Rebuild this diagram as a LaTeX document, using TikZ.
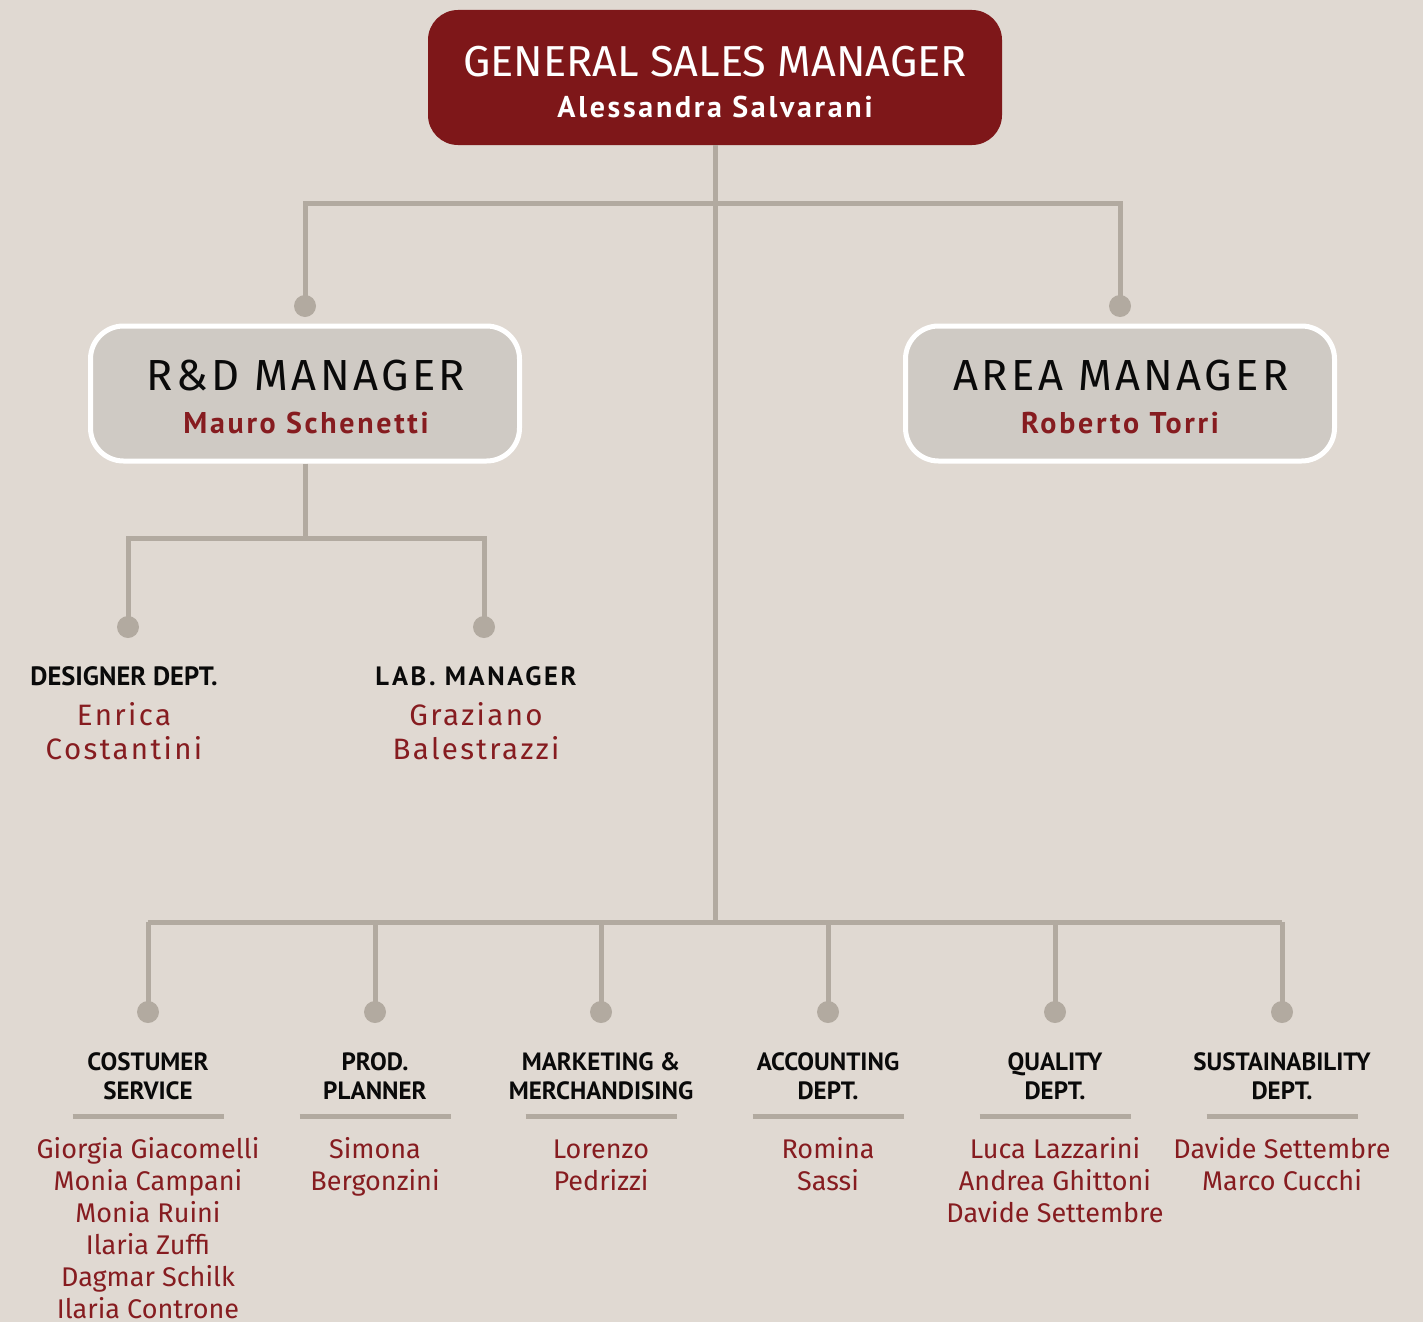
\documentclass[tikz,border=0pt]{standalone}
\usepackage{fontspec}
\setmainfont{Fira Sans}
\newfontfamily\headfont{PT Sans}
\newfontfamily\headspaced[LetterSpace=9]{PT Sans}
\newfontfamily\headwide[LetterSpace=10]{PT Sans}
\newfontfamily\namespaced[LetterSpace=8]{Fira Sans}
\definecolor{bgc}{HTML}{E0D9D2}
\definecolor{linec}{HTML}{B2AAA0}
\definecolor{redc}{HTML}{7E1719}
\definecolor{namec}{HTML}{861C20}
\definecolor{mgrc}{HTML}{CFCAC4}
\definecolor{headc}{HTML}{0A0A0A}
\tikzset{
  conn/.style={draw=linec, line width=5pt},
  dotnode/.style={circle, fill=linec, minimum size=22pt, inner sep=0pt},
  topbox/.style={rectangle, rounded corners=30pt, fill=redc, minimum width=574pt, minimum height=135pt, inner sep=0pt},
  mgrbox/.style={rectangle, rounded corners=33pt, fill=mgrc, draw=white, line width=5pt, minimum width=429pt, minimum height=135pt, inner sep=0pt},
  toptitle/.style={anchor=base, inner sep=0pt, text=white, font=\fontsize{43.3}{46}\selectfont},
  topname/.style={anchor=base, inner sep=0pt, text=white, font=\headspaced\bfseries\fontsize{30}{32}\selectfont},
  mgrtitle/.style={anchor=base, inner sep=0pt, text=headc, font=\namespaced\fontsize{43.5}{46}\selectfont},
  mgrname/.style={anchor=base, inner sep=0pt, text=namec, font=\headspaced\bfseries\fontsize{30}{32}\selectfont},
  depthead/.style={anchor=base, inner sep=0pt, text=headc, font=\headfont\bfseries\fontsize{25}{28}\selectfont},
  rdhead/.style={anchor=base, inner sep=0pt, text=headc, font=\headfont\bfseries\fontsize{26.5}{28}\selectfont},
  rdheadsp/.style={anchor=base, inner sep=0pt, text=headc, font=\headwide\bfseries\fontsize{26.5}{28}\selectfont},
  spacedname/.style={anchor=base, inner sep=0pt, text=namec, font=\namespaced\fontsize{29.5}{32}\selectfont},
  person/.style={anchor=base, inner sep=0pt, text=namec, font=\fontsize{27}{32}\selectfont},
  rule/.style={draw=linec, line width=5pt},
}
\begin{document}
\begin{tikzpicture}[x=1pt, y=-1pt]
\fill[bgc] (0,0) rectangle (1423,1322);
\useasboundingbox (0,0) rectangle (1423,1322);

% boxes
\node[topbox] (gsm) at (715,77.5) {};
\node[mgrbox] (rd) at (305,393.5) {};
\node[mgrbox] (am) at (1120,393.5) {};

% junctions and dots
\coordinate (topbar) at (715,203);
\coordinate (rdtop) at (305,203);
\coordinate (amtop) at (1120,203);
\node[dotnode] (rddot) at (305,306) {};
\node[dotnode] (amdot) at (1120,306) {};
\coordinate (rdbus) at (305,538);
\coordinate (dsj) at (128,538);
\coordinate (lbj) at (484,538);
\node[dotnode] (dsdot) at (128,627) {};
\node[dotnode] (lbdot) at (484,627) {};
\coordinate (busc) at (715,922);

% connectors
\draw[conn] (gsm.south) -- (busc);
\draw[conn] (rddot.center) -- (rdtop) -- (amtop) -- (amdot.center);
\draw[conn] (rd.south) -- (rdbus);
\draw[conn] (dsdot.center) -- (dsj) -- (lbj) -- (lbdot.center);

% box texts
\node[toptitle] (gsmt) at (715,77) {GENERAL SALES MANAGER};
\node[topname] (gsmn) at (715,117) {Alessandra Salvarani};
\node[mgrtitle] (rdt) at (306,390) {R\&D MANAGER};
\node[mgrname] (rdn) at (306,433) {Mauro Schenetti};
\node[mgrtitle] (amt) at (1121,390) {AREA MANAGER};
\node[mgrname] (amn) at (1120,433) {Roberto Torri};

% R&D departments
\node[rdhead] (dsh) at (124,685) {DESIGNER DEPT.};
\node[spacedname] (dsn1) at (124,725) {Enrica};
\node[spacedname] (dsn2) at (124,759) {Costantini};
\node[rdheadsp] (lbh) at (476,685) {LAB. MANAGER};
\node[spacedname] (lbn1) at (476,725) {Graziano};
\node[spacedname] (lbn2) at (476,759) {Balestrazzi};

% bottom departments
\foreach \x/\hA/\hB [count=\i] in {148/COSTUMER/SERVICE, 375/PROD./PLANNER, 601/MARKETING \&/MERCHANDISING, 828/ACCOUNTING/DEPT., 1055/QUALITY/DEPT., 1282/SUSTAINABILITY/DEPT.} {
  \coordinate (bj\i) at (\x,922);
  \node[dotnode] (bd\i) at (\x,1012) {};
  \draw[conn] (bd\i.center) -- (bj\i);
  \node[depthead] (bh\i a) at (\x,1070) {\hA};
  \node[depthead] (bh\i b) at (\x,1099) {\hB};
  \draw[rule] (\x-75.5,1116) -- (\x+75.5,1116);
}
\draw[conn] (bj1) -- (bj6);

\foreach \nm [count=\k] in {Giorgia Giacomelli, Monia Campani, Monia Ruini, Ilaria Zuffi, Dagmar Schilk, Ilaria Controne}
  \node[person] (csn\k) at (148,{1158+32*(\k-1)}) {\nm};
\foreach \nm [count=\k] in {Simona, Bergonzini}
  \node[person] (ppn\k) at (375,{1158+32*(\k-1)}) {\nm};
\foreach \nm [count=\k] in {Lorenzo, Pedrizzi}
  \node[person] (mmn\k) at (601,{1158+32*(\k-1)}) {\nm};
\foreach \nm [count=\k] in {Romina, Sassi}
  \node[person] (acn\k) at (828,{1158+32*(\k-1)}) {\nm};
\foreach \nm [count=\k] in {Luca Lazzarini, Andrea Ghittoni, Davide Settembre}
  \node[person] (qun\k) at (1055,{1158+32*(\k-1)}) {\nm};
\foreach \nm [count=\k] in {Davide Settembre, Marco Cucchi}
  \node[person] (sun\k) at (1282,{1158+32*(\k-1)}) {\nm};
\end{tikzpicture}
\end{document}
